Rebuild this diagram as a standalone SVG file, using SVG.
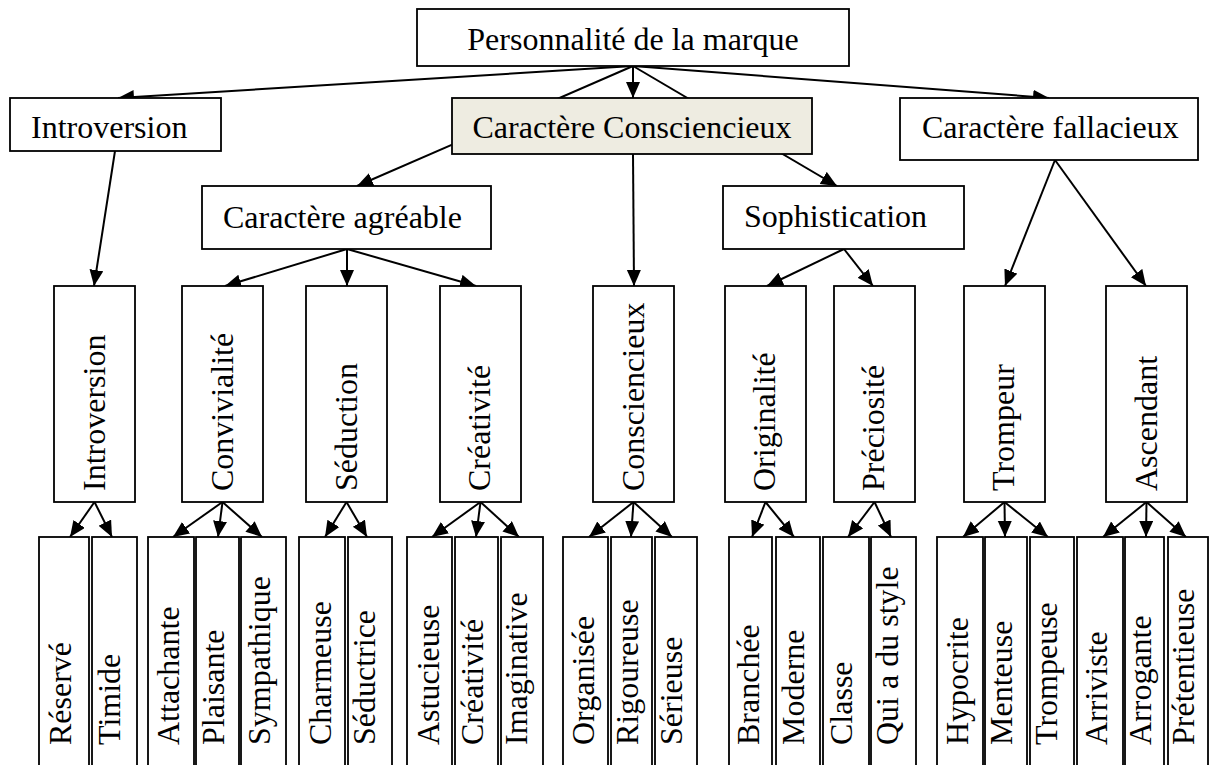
<svg xmlns="http://www.w3.org/2000/svg" width="1211" height="765" viewBox="0 0 1211 765">
<style>
.box{fill:#fff;stroke:#000;stroke-width:1.8}
.hl{fill:#EEECE1}
.t{font-family:"Liberation Serif","Times New Roman",serif;font-size:32px;fill:#000}
.m{text-anchor:middle}
.c{stroke:#000;stroke-width:2;fill:none;marker-end:url(#ah)}
</style>
<defs>
<marker id="ah" markerUnits="userSpaceOnUse" markerWidth="17" markerHeight="15" refX="16" refY="7" orient="auto">
<path d="M0,0 L16,7 L0,14 z" fill="#000"/>
</marker>
</defs>
<rect width="1211" height="765" fill="#fff"/>
<g id="connectors">
<line class="c" x1="633" y1="66" x2="118" y2="98"/>
<line class="c" x1="633" y1="66" x2="633" y2="98"/>
<line class="c" x1="633" y1="66" x2="1049" y2="98"/>
<line class="c" x1="633" y1="66" x2="357" y2="186"/>
<line class="c" x1="633" y1="66" x2="837" y2="186"/>
<line class="c" x1="115" y1="151" x2="94" y2="286"/>
<line class="c" x1="633" y1="154" x2="634" y2="286"/>
<line class="c" x1="347" y1="249" x2="225" y2="286"/>
<line class="c" x1="347" y1="249" x2="347" y2="286"/>
<line class="c" x1="347" y1="249" x2="476" y2="286"/>
<line class="c" x1="844" y1="249" x2="767" y2="286"/>
<line class="c" x1="844" y1="249" x2="873" y2="286"/>
<line class="c" x1="1055" y1="160" x2="1005" y2="286"/>
<line class="c" x1="1055" y1="160" x2="1146" y2="286"/>
<line class="c" x1="94.5" y1="502" x2="70" y2="537"/>
<line class="c" x1="94.5" y1="502" x2="112" y2="537"/>
<line class="c" x1="222.5" y1="502" x2="173" y2="537"/>
<line class="c" x1="222.5" y1="502" x2="218" y2="537"/>
<line class="c" x1="222.5" y1="502" x2="262" y2="537"/>
<line class="c" x1="346.5" y1="502" x2="325" y2="537"/>
<line class="c" x1="346.5" y1="502" x2="367" y2="537"/>
<line class="c" x1="480.5" y1="502" x2="432" y2="537"/>
<line class="c" x1="480.5" y1="502" x2="476" y2="537"/>
<line class="c" x1="480.5" y1="502" x2="519" y2="537"/>
<line class="c" x1="633.5" y1="502" x2="589" y2="537"/>
<line class="c" x1="633.5" y1="502" x2="631" y2="537"/>
<line class="c" x1="633.5" y1="502" x2="672" y2="537"/>
<line class="c" x1="765.5" y1="502" x2="752" y2="537"/>
<line class="c" x1="765.5" y1="502" x2="794" y2="537"/>
<line class="c" x1="874.5" y1="502" x2="848" y2="537"/>
<line class="c" x1="874.5" y1="502" x2="891" y2="537"/>
<line class="c" x1="1004.5" y1="502" x2="963" y2="537"/>
<line class="c" x1="1004.5" y1="502" x2="1005" y2="537"/>
<line class="c" x1="1004.5" y1="502" x2="1048" y2="537"/>
<line class="c" x1="1146.5" y1="502" x2="1103" y2="537"/>
<line class="c" x1="1146.5" y1="502" x2="1146" y2="537"/>
<line class="c" x1="1146.5" y1="502" x2="1186" y2="537"/>
</g>
<g id="n-personnalite"><rect class="box" x="417" y="9" width="432" height="57"/><text class="t m" x="633" y="50">Personnalité de la marque</text></g>
<g id="n-introversion1"><rect class="box" x="10" y="98" width="211" height="53"/><text class="t" x="31" y="138">Introversion</text></g>
<g id="n-conscienc1"><rect class="box hl" x="452" y="98" width="360" height="56"/><text class="t m" x="632" y="138">Caractère Consciencieux</text></g>
<g id="n-fallacieux"><rect class="box" x="900" y="98" width="298" height="62"/><text class="t" x="922" y="138">Caractère fallacieux</text></g>
<g id="n-agreable"><rect class="box" x="202" y="186" width="289" height="63"/><text class="t" x="223" y="228">Caractère agréable</text></g>
<g id="n-sophistication"><rect class="box" x="723" y="186" width="241" height="63"/><text class="t" x="744" y="227">Sophistication</text></g>
<g id="n-introversion2"><rect class="box" x="54" y="286" width="81" height="216"/><text class="t" transform="translate(105,491) rotate(-90)">Introversion</text></g>
<g id="n-convivialite"><rect class="box" x="182" y="286" width="81" height="216"/><text class="t" transform="translate(233,491) rotate(-90)">Convivialité</text></g>
<g id="n-seduction"><rect class="box" x="306" y="286" width="81" height="216"/><text class="t" transform="translate(357,491) rotate(-90)">Séduction</text></g>
<g id="n-creativite"><rect class="box" x="440" y="286" width="81" height="216"/><text class="t" transform="translate(490,491) rotate(-90)">Créativité</text></g>
<g id="n-consciencieux"><rect class="box" x="593" y="286" width="81" height="216"/><text class="t" transform="translate(644,491) rotate(-90)">Consciencieux</text></g>
<g id="n-originalite"><rect class="box" x="725" y="286" width="81" height="216"/><text class="t" transform="translate(775,491) rotate(-90)">Originalité</text></g>
<g id="n-preciosite"><rect class="box" x="834" y="286" width="81" height="216"/><text class="t" transform="translate(884,491) rotate(-90)">Préciosité</text></g>
<g id="n-trompeur"><rect class="box" x="964" y="286" width="81" height="216"/><text class="t" transform="translate(1014,491) rotate(-90)">Trompeur</text></g>
<g id="n-ascendant"><rect class="box" x="1106" y="286" width="81" height="216"/><text class="t" transform="translate(1157,491) rotate(-90)">Ascendant</text></g>
<g id="n-reserve"><rect class="box" x="39" y="537" width="50" height="240"/><text class="t" transform="translate(71,745) rotate(-90)">Réservé</text></g>
<g id="n-timide"><rect class="box" x="92" y="537" width="45" height="240"/><text class="t" transform="translate(120,745) rotate(-90)">Timide</text></g>
<g id="n-attachante"><rect class="box" x="148" y="537" width="46" height="240"/><text class="t" transform="translate(179,745) rotate(-90)">Attachante</text></g>
<g id="n-plaisante"><rect class="box" x="196" y="537" width="43" height="240"/><text class="t" transform="translate(224,745) rotate(-90)">Plaisante</text></g>
<g id="n-sympathique"><rect class="box" x="241" y="537" width="45" height="240"/><text class="t" transform="translate(270,745) rotate(-90)">Sympathique</text></g>
<g id="n-charmeuse"><rect class="box" x="299" y="537" width="46" height="240"/><text class="t" transform="translate(331,745) rotate(-90)">Charmeuse</text></g>
<g id="n-seductrice"><rect class="box" x="348" y="537" width="44" height="240"/><text class="t" transform="translate(375,745) rotate(-90)">Séductrice</text></g>
<g id="n-astucieuse"><rect class="box" x="407" y="537" width="45" height="240"/><text class="t" transform="translate(439,745) rotate(-90)">Astucieuse</text></g>
<g id="n-creativite2"><rect class="box" x="455" y="537" width="43" height="240"/><text class="t" transform="translate(483,745) rotate(-90)">Créativité</text></g>
<g id="n-imaginative"><rect class="box" x="501" y="537" width="42" height="240"/><text class="t" transform="translate(527,745) rotate(-90)">Imaginative</text></g>
<g id="n-organisee"><rect class="box" x="563" y="537" width="45" height="240"/><text class="t" transform="translate(594,745) rotate(-90)">Organisée</text></g>
<g id="n-rigoureuse"><rect class="box" x="611" y="537" width="41" height="240"/><text class="t" transform="translate(638,745) rotate(-90)">Rigoureuse</text></g>
<g id="n-serieuse"><rect class="box" x="655" y="537" width="42" height="240"/><text class="t" transform="translate(682,745) rotate(-90)">Sérieuse</text></g>
<g id="n-branchee"><rect class="box" x="729" y="537" width="43" height="240"/><text class="t" transform="translate(759,745) rotate(-90)">Branchée</text></g>
<g id="n-moderne"><rect class="box" x="776" y="537" width="44" height="240"/><text class="t" transform="translate(804,745) rotate(-90)">Moderne</text></g>
<g id="n-classe"><rect class="box" x="823" y="537" width="46" height="240"/><text class="t" transform="translate(852,745) rotate(-90)">Classe</text></g>
<g id="n-style"><rect class="box" x="871" y="537" width="45" height="240"/><text class="t" transform="translate(898,745) rotate(-90)">Qui a du style</text></g>
<g id="n-hypocrite"><rect class="box" x="937" y="537" width="46" height="240"/><text class="t" transform="translate(968,745) rotate(-90)">Hypocrite</text></g>
<g id="n-menteuse"><rect class="box" x="985" y="537" width="42" height="240"/><text class="t" transform="translate(1012,745) rotate(-90)">Menteuse</text></g>
<g id="n-trompeuse"><rect class="box" x="1030" y="537" width="44" height="240"/><text class="t" transform="translate(1057,745) rotate(-90)">Trompeuse</text></g>
<g id="n-arriviste"><rect class="box" x="1077" y="537" width="46" height="240"/><text class="t" transform="translate(1107,745) rotate(-90)">Arriviste</text></g>
<g id="n-arrogante"><rect class="box" x="1125" y="537" width="39" height="240"/><text class="t" transform="translate(1151,745) rotate(-90)">Arrogante</text></g>
<g id="n-pretentieuse"><rect class="box" x="1168" y="537" width="40" height="240"/><text class="t" transform="translate(1194,745) rotate(-90)">Prétentieuse</text></g>
</svg>
